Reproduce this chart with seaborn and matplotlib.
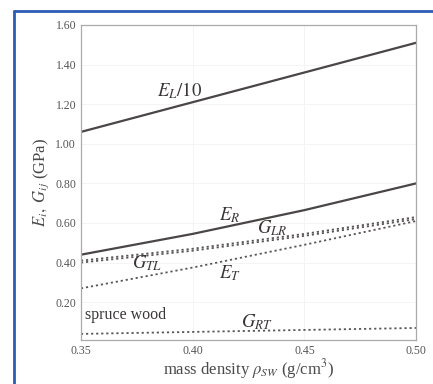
import pandas as pd
import matplotlib.pyplot as plt
import seaborn as sns
from matplotlib.lines import Line2D

sns.set_theme(style="white")
plt.rcParams["font.family"] = ["Liberation Serif", "DejaVu Serif"]
plt.rcParams["mathtext.fontset"] = "stix"

# Data
density = [0.35, 0.40, 0.45, 0.50]
E_L10 = [1.06, 1.21, 1.36, 1.51]
E_R = [0.44, 0.545, 0.665, 0.80]
G_LR = [0.41, 0.47, 0.545, 0.63]
G_TL = [0.40, 0.46, 0.535, 0.62]
E_T = [0.27, 0.375, 0.49, 0.61]
G_RT = [0.04, 0.05, 0.06, 0.07]

x_ticks = [0.35, 0.40, 0.45, 0.50]
y_ticks = [0.20, 0.40, 0.60, 0.80, 1.00, 1.20, 1.40, 1.60]

series = {"E_L10": E_L10, "E_R": E_R, "G_LR": G_LR,
          "G_TL": G_TL, "E_T": E_T, "G_RT": G_RT}
solid = ["E_L10", "E_R"]

fig = plt.figure(figsize=(4.33, 3.84), dpi=100)
fig.patch.set_facecolor("white")
ax = fig.add_axes([0.187, 0.115, 0.774, 0.82])

line_col = "#4a4646"
for name, vals in series.items():
    df = pd.DataFrame({"x": density, "y": vals})
    if name in solid:
        sns.lineplot(data=df, x="x", y="y", ax=ax, color=line_col, lw=1.6)
    else:
        sns.lineplot(data=df, x="x", y="y", ax=ax, color="#5a5656", lw=1.3,
                     linestyle=(0, (1.2, 1.6)))

ax.set_xlim(0.35, 0.50)
ax.set_ylim(0.01, 1.60)
ax.set_xticks(x_ticks)
ax.set_yticks(y_ticks)
ax.set_xticklabels([f"{v:.2f}" for v in x_ticks], fontsize=8.5, color="#555555")
ax.set_yticklabels([f"{v:.2f}" for v in y_ticks], fontsize=8.5, color="#555555")
ax.tick_params(direction="out", length=2.5, width=0.6, color="#999999", pad=1)
ax.grid(True, color="#f2f2f2", lw=0.6)
for s in ax.spines.values():
    s.set_color("#aaaaaa")
    s.set_linewidth(0.9)

ax.set_xlabel(r"mass density $\rho_{SW}$ (g/cm$^3$)", fontsize=12, color="#4a4a4a", labelpad=0)
ax.set_ylabel(r"$E_i,\ G_{ij}$ (GPa)", fontsize=12, color="#4a4a4a", labelpad=3)

# curve labels
lab = dict(fontsize=13.5, color="#3a3636", ha="center", va="center")
ax.text(0.394, 1.27, r"$E_L/10$", **lab)
ax.text(0.4167, 0.64, r"$E_R$", **lab)
ax.text(0.4355, 0.574, r"$G_{LR}$", **lab)
ax.text(0.3795, 0.397, r"$G_{TL}$", **lab)
ax.text(0.4167, 0.346, r"$E_T$", **lab)
ax.text(0.4288, 0.099, r"$G_{RT}$", **lab)
ax.text(0.352, 0.134, "spruce wood", fontsize=11.5, color="#3a3636", ha="left", va="center")

# blue frame around the figure
frame_col = "#2d5db3"
fig.add_artist(Line2D([14 / 433, 14 / 433], [0, 1 - 11 / 384], color=frame_col, lw=2,
                      transform=fig.transFigure))
fig.add_artist(Line2D([14 / 433, 1], [1 - 11 / 384, 1 - 11 / 384], color=frame_col, lw=2,
                      transform=fig.transFigure))

fig.savefig("out.png", dpi=100)
